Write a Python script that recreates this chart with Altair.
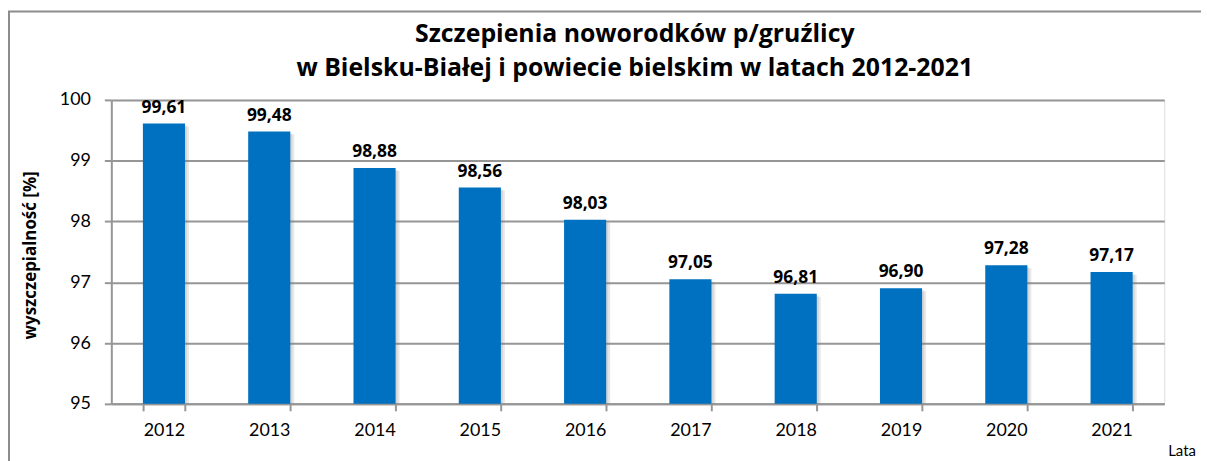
import altair as alt
import pandas as pd

years = ["2012", "2013", "2014", "2015", "2016", "2017", "2018", "2019", "2020", "2021"]
values = [99.61, 99.48, 98.88, 98.56, 98.03, 97.05, 96.81, 96.90, 97.28, 97.17]
labels = ["99,61", "99,48", "98,88", "98,56", "98,03", "97,05", "96,81", "96,90", "97,28", "97,17"]
title_lines = ["Szczepienia noworodków p/gruźlicy",
               "w Bielsku-Białej i powiecie bielskim w latach 2012-2021"]
y_title = "wyszczepialność [%]"
x_title = "Lata"

FONT = "Lato"
TFONT = "Open Sans"
LINE = "#969696"
W, H = 1060, 306

df = pd.DataFrame({"rok": years, "wartosc": values, "etykieta": labels})

x = alt.X("rok:N", sort=years, title=None,
          scale=alt.Scale(paddingInner=0.6, paddingOuter=0.3),
          axis=alt.Axis(labelAngle=0, labelFont=FONT, labelFontSize=18, labelColor="#000000",
                        tickBand="extent", tickSize=7, tickColor=LINE, tickWidth=2,
                        domainColor=LINE, domainWidth=2, labelPadding=11, grid=False))
y = alt.Y("wartosc:Q", title=y_title,
          scale=alt.Scale(domain=[95, 100], zero=False, nice=False),
          axis=alt.Axis(values=[95, 96, 97, 98, 99, 100], format="d", labelFont=FONT, labelFontSize=18,
                        labelColor="#000000", tickSize=7, tickColor=LINE, tickWidth=2,
                        domainColor=LINE, domainWidth=2,
                        gridColor=LINE, gridWidth=2, labelPadding=14,
                        titleFont=TFONT, titleFontSize=17, titleFontWeight="bold", titleColor="#000000",
                        titleAngle=-90, titleX=-81, titleY=156, titleAlign="center",
                        titleBaseline="middle"))

base = alt.Chart(df)

shadow1 = base.mark_bar(color="#7f7f7f", opacity=0.18, xOffset=4, yOffset=3).encode(x=x, y=y, y2=alt.datum(95))
shadow2 = base.mark_bar(color="#7f7f7f", opacity=0.18, xOffset=2, yOffset=2).encode(x=x, y=y, y2=alt.datum(95))
bars = base.mark_bar(color="#0070C0").encode(x=x, y=y, y2=alt.datum(95))
text = base.mark_text(font=TFONT, fontSize=17.5, fontWeight="bold", color="#000000",
                      baseline="alphabetic", dy=-11).encode(x=x, y=y, text="etykieta:N")

title_df = pd.DataFrame({"t": title_lines, "yy": [-58, -24]})
title = alt.Chart(title_df).mark_text(font=TFONT, fontSize=25, fontWeight="bold", color="#000000",
                                      align="center", baseline="alphabetic").encode(
    x=alt.value(527), y=alt.Y("yy:Q", scale=None), text="t:N")

lata = alt.Chart(pd.DataFrame({"t": [x_title]})).mark_text(
    font=FONT, fontSize=15, color="#000000", align="left", baseline="alphabetic").encode(
    x=alt.value(1064), y=alt.value(358), text="t:N")

border = alt.Chart(pd.DataFrame({"a": [0]})).mark_rect(
    filled=False, stroke="#8c8c8c", strokeWidth=2).encode(
    x=alt.value(-103), x2=alt.value(1300), y=alt.value(-89), y2=alt.value(600))

chart = alt.layer(border, shadow1, shadow2, bars, text, title, lata).properties(
    width=W, height=H,
    autosize=alt.AutoSizeParams(type="none"),
    padding={"left": 104, "top": 91, "right": 37, "bottom": 56},
).configure_view(stroke=None).configure(background="#ffffff")

chart.save("out.html", embed_options={"renderer": "svg", "actions": False})
